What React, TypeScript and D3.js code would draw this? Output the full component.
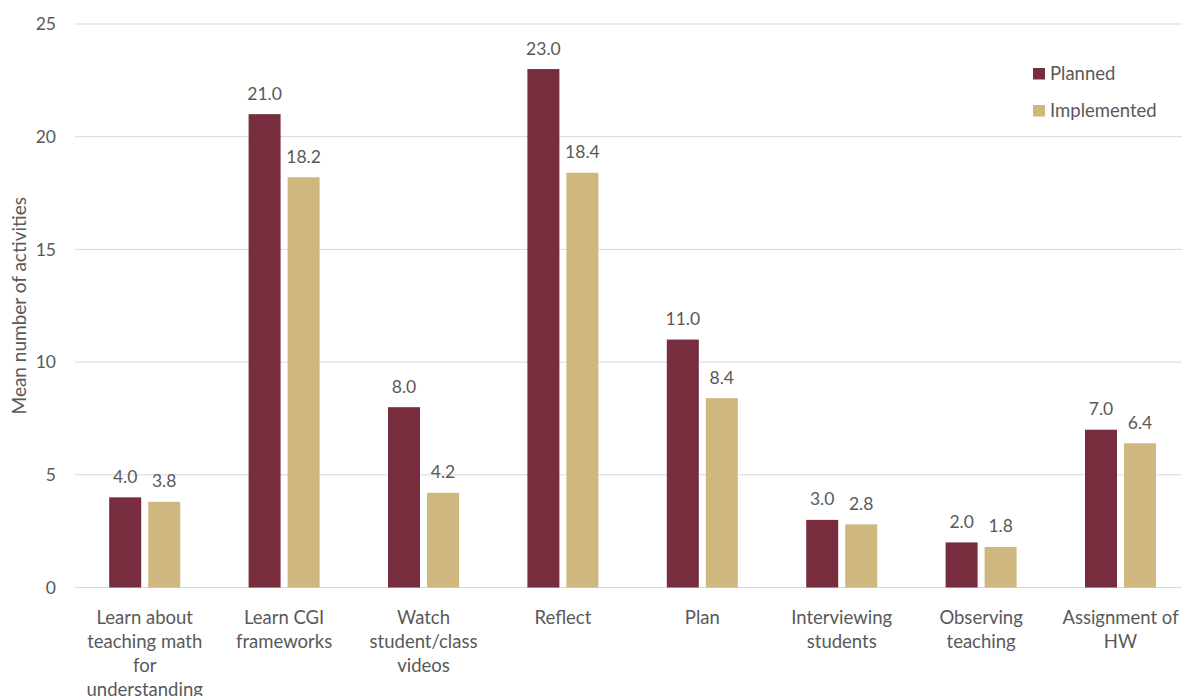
import React from "react";
import * as d3 from "d3";

const categories: string[][] = [
  ["Learn about", "teaching math", "for", "understanding"],
  ["Learn CGI", "frameworks"],
  ["Watch", "student/class", "videos"],
  ["Reflect"],
  ["Plan"],
  ["Interviewing", "students"],
  ["Observing", "teaching"],
  ["Assignment of", "HW"],
];
const planned = [4.0, 21.0, 8.0, 23.0, 11.0, 3.0, 2.0, 7.0];
const implemented = [3.8, 18.2, 4.2, 18.4, 8.4, 2.8, 1.8, 6.4];
const seriesNames = ["Planned", "Implemented"];
const yTicks = [0, 5, 10, 15, 20, 25];

const COLORS = ["#772D3E", "#CFB87F"];
const TEXT = "#595959";
const FONT = "Lato, 'Open Sans', sans-serif";

export default function App() {
  const W = 1182;
  const H = 696;
  const left = 75;
  const step = 139.4;
  const x = d3
    .scaleBand<number>()
    .domain(d3.range(categories.length))
    .range([left, left + step * categories.length])
    .paddingInner(0)
    .paddingOuter(0);
  const y = d3.scaleLinear().domain([0, 25]).range([587.5, 24]);
  const barW = 32;
  const gap = 7;
  const series = [planned, implemented];

  return (
    <svg
      width={W}
      height={H}
      style={{ position: "absolute", left: 0, top: 0, background: "#fff" }}
      fontFamily={FONT}
    >
      {yTicks.map((t) => (
        <g key={t}>
          <line x1={left} x2={W} y1={y(t)} y2={y(t)} stroke="#d9d9d9" strokeWidth={1} />
          <text x={56} y={y(t)} dy="0.35em" textAnchor="end" fontSize={17.5} fill={TEXT}>
            {t}
          </text>
        </g>
      ))}
      <text
        transform={`translate(26,${y(12.5)}) rotate(-90)`}
        textAnchor="middle"
        fontSize={19}
        fill={TEXT}
      >
        Mean number of activities
      </text>
      {categories.map((lines, i) => {
        const cx = (x(i) as number) + x.bandwidth() / 2;
        return (
          <g key={i}>
            {series.map((vals, s) => {
              const bx = s === 0 ? cx - gap / 2 - barW : cx + gap / 2;
              const v = vals[i];
              return (
                <g key={s}>
                  <rect x={bx} y={y(v)} width={barW} height={y(0) - y(v)} fill={COLORS[s]} />
                  <text
                    x={bx + barW / 2}
                    y={y(v) - 14.5}
                    textAnchor="middle"
                    fontSize={17.5}
                    fill={TEXT}
                  >
                    {v.toFixed(1)}
                  </text>
                </g>
              );
            })}
            {lines.map((ln, k) => (
              <text
                key={k}
                x={cx}
                y={623.5 + k * 24}
                textAnchor="middle"
                fontSize={18.5}
                fill={TEXT}
              >
                {ln}
              </text>
            ))}
          </g>
        );
      })}
      {seriesNames.map((n, s) => (
        <g key={n} transform={`translate(1033,${68 + s * 37})`}>
          <rect width={12} height={11.5} fill={COLORS[s]} />
          <text x={17} y={11.5} fontSize={18.5} fill={TEXT}>
            {n}
          </text>
        </g>
      ))}
    </svg>
  );
}
